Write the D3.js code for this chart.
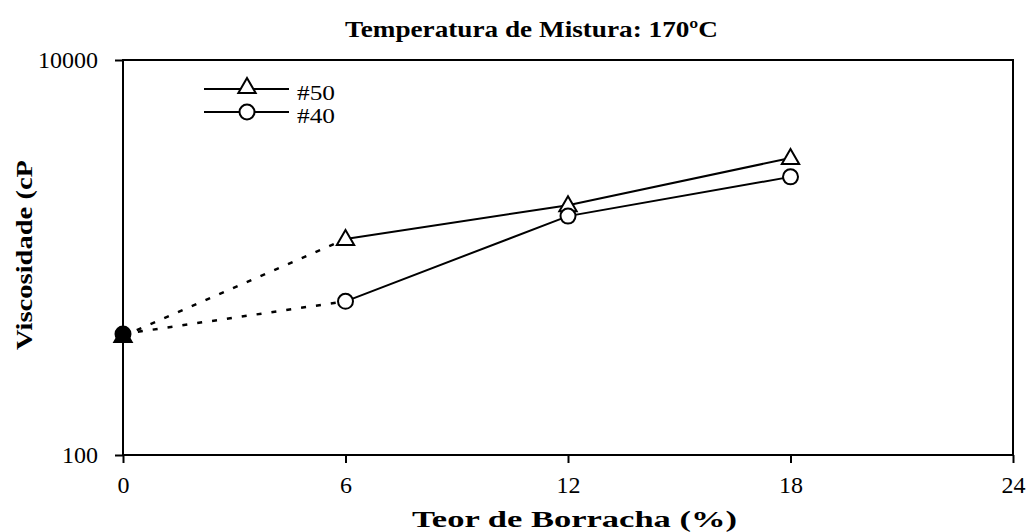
<!DOCTYPE html>
<html>
<head>
<meta charset="utf-8">
<script src="https://cdn.jsdelivr.net/npm/d3@7"></script>
<style>
  body { margin: 0; background: white; }
  text { font-family: "Liberation Serif", "Times New Roman", serif; fill: black; }
</style>
</head>
<body>
<div id="chart"></div>
<script>
// Data
const teor = [0, 6, 12, 18];
const visc50 = [400, 1240, 1840, 3190];
const visc40 = [410, 600, 1620, 2560];
const xTicks = [0, 6, 12, 18, 24];
const yTicks = [100, 10000];

// SVG dimensions
const w = 1029;
const h = 532;
const padLeft = 123, padRight = 1013, padTop = 60, padBottom = 455;

const svg = d3.select("#chart")
    .append("svg")
    .attr("width", w)
    .attr("height", h);

// Scales
const xScale = d3.scaleLinear().domain([0, 24]).range([padLeft, padRight]);
const yScale = d3.scaleLog().domain([100, 10000]).range([padBottom, padTop]);

// Plot frame
svg.append("rect")
    .attr("x", padLeft).attr("y", padTop)
    .attr("width", padRight - padLeft).attr("height", padBottom - padTop)
    .attr("fill", "none").attr("stroke", "black").attr("stroke-width", 2);

// Axes
const xAxis = d3.axisBottom(xScale).tickValues(xTicks).tickSize(8).tickPadding(13);
const yAxis = d3.axisLeft(yScale).tickValues(yTicks).tickSize(8).tickPadding(17)
    .tickFormat(d3.format("d"));

svg.append("g")
    .attr("transform", "translate(0," + padBottom + ")")
    .call(xAxis)
    .call(g => g.select(".domain").remove());

svg.append("g")
    .attr("transform", "translate(" + padLeft + ",0)")
    .call(yAxis)
    .call(g => g.select(".domain").remove());

svg.selectAll(".tick line").attr("stroke", "black").attr("stroke-width", 2);
svg.selectAll(".tick text")
    .style("font-family", "Liberation Serif")
    .style("font-size", "24px")
    .attr("fill", "black");

// Titles (the original text is a little stretched sideways)
svg.append("text")
    .attr("x", 345).attr("y", 37)
    .attr("textLength", 373).attr("lengthAdjust", "spacingAndGlyphs")
    .style("font-weight", "bold")
    .style("font-size", "23px")
    .text("Temperatura de Mistura: 170ºC");

svg.append("text")
    .attr("x", 412).attr("y", 527)
    .attr("textLength", 325).attr("lengthAdjust", "spacingAndGlyphs")
    .style("font-weight", "bold")
    .style("font-size", "23px")
    .text("Teor de Borracha (%)");

svg.append("text")
    .attr("transform", "translate(32,350) rotate(-90)")
    .attr("textLength", 190).attr("lengthAdjust", "spacingAndGlyphs")
    .style("font-weight", "bold")
    .style("font-size", "23px")
    .text("Viscosidade (cP");

// Series
const series = [
    { name: "#50", values: visc50, shape: "triangle" },
    { name: "#40", values: visc40, shape: "circle" }
];

const triangle = d3.symbol().type(d3.symbolTriangle).size(130);

function drawMarker(g, shape, x, y, filled) {
    if (shape === "circle") {
        g.append("circle")
            .attr("cx", x).attr("cy", y).attr("r", 7.5)
            .attr("fill", filled ? "black" : "white")
            .attr("stroke", "black").attr("stroke-width", 2);
    } else {
        g.append("path")
            .attr("d", triangle())
            .attr("transform", "translate(" + x + "," + (y + 1) + ")")
            .attr("fill", filled ? "black" : "white")
            .attr("stroke", "black").attr("stroke-width", 2);
    }
}

const line = d3.line()
    .x(d => xScale(d[0]))
    .y(d => yScale(d[1]));

series.forEach(s => {
    const pts = teor.map((t, i) => [t, s.values[i]]);
    // dashed part from 0 to 6
    svg.append("path")
        .attr("d", line(pts.slice(0, 2)))
        .attr("fill", "none").attr("stroke", "black")
        .attr("stroke-width", 2.5).attr("stroke-dasharray", "5,10");
    // solid part
    svg.append("path")
        .attr("d", line(pts.slice(1)))
        .attr("fill", "none").attr("stroke", "black").attr("stroke-width", 2);
});

series.forEach(s => {
    const g = svg.append("g");
    teor.forEach((t, i) => {
        drawMarker(g, s.shape, xScale(t), yScale(s.values[i]), i === 0);
    });
});

// Legend
series.forEach((s, i) => {
    const ly = 89 + i * 23;
    const g = svg.append("g");
    g.append("line")
        .attr("x1", 204).attr("x2", 289)
        .attr("y1", ly).attr("y2", ly)
        .attr("stroke", "black").attr("stroke-width", 2);
    drawMarker(g, s.shape, 247, ly - (s.shape === "triangle" ? 2 : 0), false);
    g.append("text")
        .attr("x", 297).attr("y", ly + 11)
        .attr("textLength", 38).attr("lengthAdjust", "spacingAndGlyphs")
        .style("font-size", "21px")
        .text(s.name);
});
</script>
</body>
</html>
